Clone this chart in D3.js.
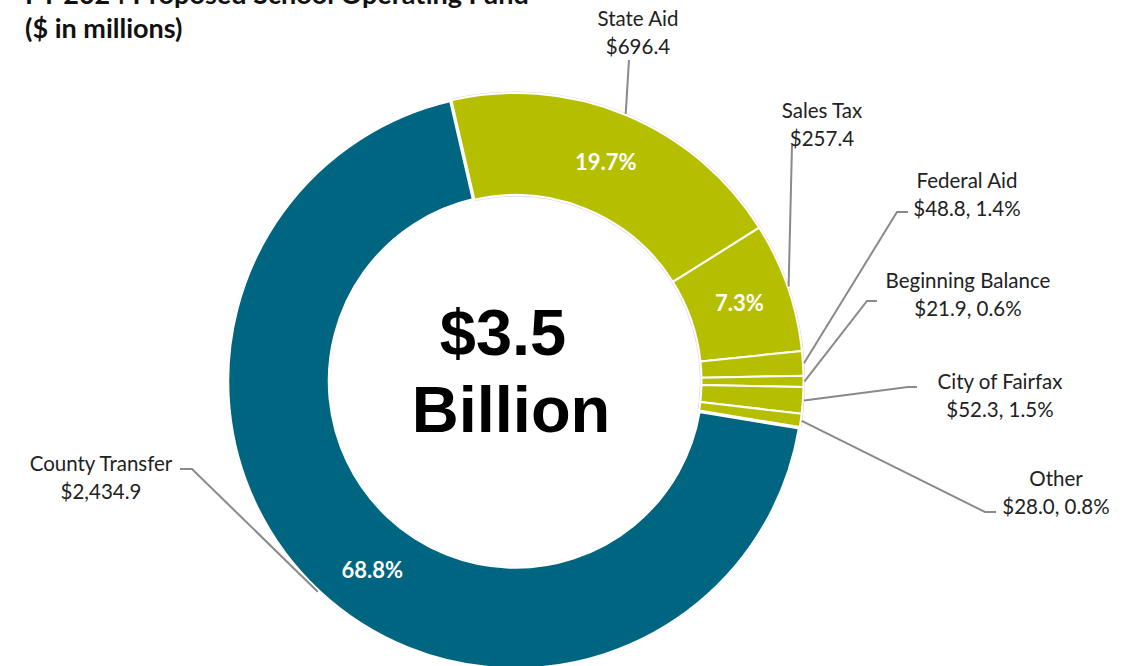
<!DOCTYPE html>
<html>
<head>
<meta charset="utf-8">
<script src="https://cdn.jsdelivr.net/npm/d3@7"></script>
<style>
  body { margin: 0; background: #fff; }
  svg { display: block; }
</style>
</head>
<body>
<div class="chart"></div>
<script>
// FY 2024 proposed school operating fund, $ in millions
var categories = ["State Aid", "Sales Tax", "Federal Aid", "Beginning Balance", "City of Fairfax", "Other", "County Transfer"];
var amounts = [696.4, 257.4, 48.8, 21.9, 52.3, 28.0, 2434.9];
var percents = ["19.7%", "7.3%", "1.4%", "0.6%", "1.5%", "0.8%", "68.8%"];
var showPctInside = [true, true, false, false, false, false, true];
var showPctOutside = [false, false, true, true, true, true, false];
var titleLines = ["FY 2024 Proposed School Operating Fund", "($ in millions)"];
var centerLines = ["$3.5", "Billion"];

var chart = {
  width: 1135,
  height: 666,
  cx: 515.5,
  cy: 381,
  outer: 288,
  inner: 186,
  startDeg: -13,
  teal: "#006580",
  olive: "#b5bf00",
  font: "Lato, 'Open Sans', sans-serif"
};

// label placement: text centre x, first baseline y, elbow points of the leader
var labelLayout = [
  { x: 638, y: 26, path: [[629, 60]] },
  { x: 822, y: 118, path: [[792, 145]] },
  { x: 967, y: 188, path: [[908, 212], [897, 212]] },
  { x: 968, y: 288, path: [[877, 301], [867, 301]] },
  { x: 1000, y: 389, path: [[917, 387], [908, 387]] },
  { x: 1056, y: 486, path: [[996, 512], [985, 512]] },
  { x: 101, y: 471, path: [[180, 469], [192, 469]] }
];
var pctShift = [0, 0, 0, 0, 0, 0, -6]; // degrees

var svg = d3.select(".chart").append("svg")
  .attr("width", chart.width)
  .attr("height", chart.height);

var data = categories.map(function (c, i) {
  return { name: c, value: amounts[i], pct: percents[i], i: i };
});

var rad = Math.PI / 180;
var pie = d3.pie().sort(null).value(function (d) { return d.value; })
  .startAngle(chart.startDeg * rad)
  .endAngle((chart.startDeg + 360) * rad);
var arcs = pie(data);

var arc = d3.arc().innerRadius(chart.inner).outerRadius(chart.outer);

var g = svg.append("g")
  .attr("transform", "translate(" + chart.cx + "," + chart.cy + ")");

// faint outlines round the ring
g.append("circle").attr("r", chart.outer + 1).attr("fill", "none").attr("stroke", "#d4d4d4").attr("stroke-width", 1);
g.append("circle").attr("r", chart.inner - 1).attr("fill", "none").attr("stroke", "#d4d4d4").attr("stroke-width", 1);

g.selectAll("path.slice")
  .data(arcs)
  .enter().append("path")
  .classed("slice", true)
  .attr("d", arc)
  .attr("fill", function (d) { return d.data.i === 6 ? chart.teal : chart.olive; })
  .attr("stroke", "#fff")
  .attr("stroke-width", function (d) { return d.data.i === 6 ? 3.5 : 2; })
  .attr("stroke-linejoin", "round");

// percent labels inside the ring
g.selectAll("text.pct")
  .data(arcs.filter(function (d) { return showPctInside[d.data.i]; }))
  .enter().append("text")
  .classed("pct", true)
  .attr("transform", function (d) {
    var a = (d.startAngle + d.endAngle) / 2 + pctShift[d.data.i] * rad;
    var r = (chart.inner + chart.outer) / 2;
    return "translate(" + (r * Math.sin(a)) + "," + (-r * Math.cos(a)) + ")";
  })
  .attr("text-anchor", "middle")
  .attr("dy", "0.35em")
  .attr("fill", "#fff")
  .attr("font-family", chart.font)
  .attr("font-weight", "bold")
  .attr("font-size", 22)
  .text(function (d) { return d.data.pct; });

// leader lines
var line = d3.line();
svg.selectAll("path.leader")
  .data(arcs)
  .enter().append("path")
  .classed("leader", true)
  .attr("d", function (d) {
    var a = (d.startAngle + d.endAngle) / 2;
    var r = chart.outer + 1;
    var pts = labelLayout[d.data.i].path.slice();
    pts.push([chart.cx + r * Math.sin(a), chart.cy - r * Math.cos(a)]);
    return line(pts);
  })
  .attr("fill", "none")
  .attr("stroke", "#8a8a8a")
  .attr("stroke-width", 2);

// outside labels
var fmt = d3.format(",.1f");
var lab = svg.selectAll("text.lab")
  .data(arcs)
  .enter().append("text")
  .classed("lab", true)
  .attr("text-anchor", "middle")
  .attr("font-family", chart.font)
  .attr("font-size", 20.5)
  .attr("fill", "#222");
lab.append("tspan")
  .attr("x", function (d) { return labelLayout[d.data.i].x; })
  .attr("y", function (d) { return labelLayout[d.data.i].y; })
  .text(function (d) { return d.data.name; });
lab.append("tspan")
  .attr("x", function (d) { return labelLayout[d.data.i].x; })
  .attr("y", function (d) { return labelLayout[d.data.i].y + 28; })
  .text(function (d) {
    var s = "$" + fmt(d.data.value);
    if (showPctOutside[d.data.i]) s += ", " + d.data.pct;
    return s;
  });

// title (first line runs off the top, as in the source)
svg.selectAll("text.title")
  .data(titleLines)
  .enter().append("text")
  .classed("title", true)
  .attr("x", 25)
  .attr("y", function (d, i) { return 4 + i * 34; })
  .attr("font-family", chart.font)
  .attr("font-weight", "bold")
  .attr("font-size", 27)
  .attr("fill", "#111")
  .text(function (d) { return d; });

// centre total
svg.selectAll("text.total")
  .data(centerLines)
  .enter().append("text")
  .classed("total", true)
  .attr("x", function (d, i) { return i === 0 ? 503 : 511; })
  .attr("y", function (d, i) { return 355 + i * 77; })
  .attr("text-anchor", "middle")
  .attr("font-family", "'Liberation Sans', Arial, sans-serif")
  .attr("font-weight", "bold")
  .attr("font-size", 65)
  .attr("fill", "#000")
  .text(function (d) { return d; });
</script>
</body>
</html>
